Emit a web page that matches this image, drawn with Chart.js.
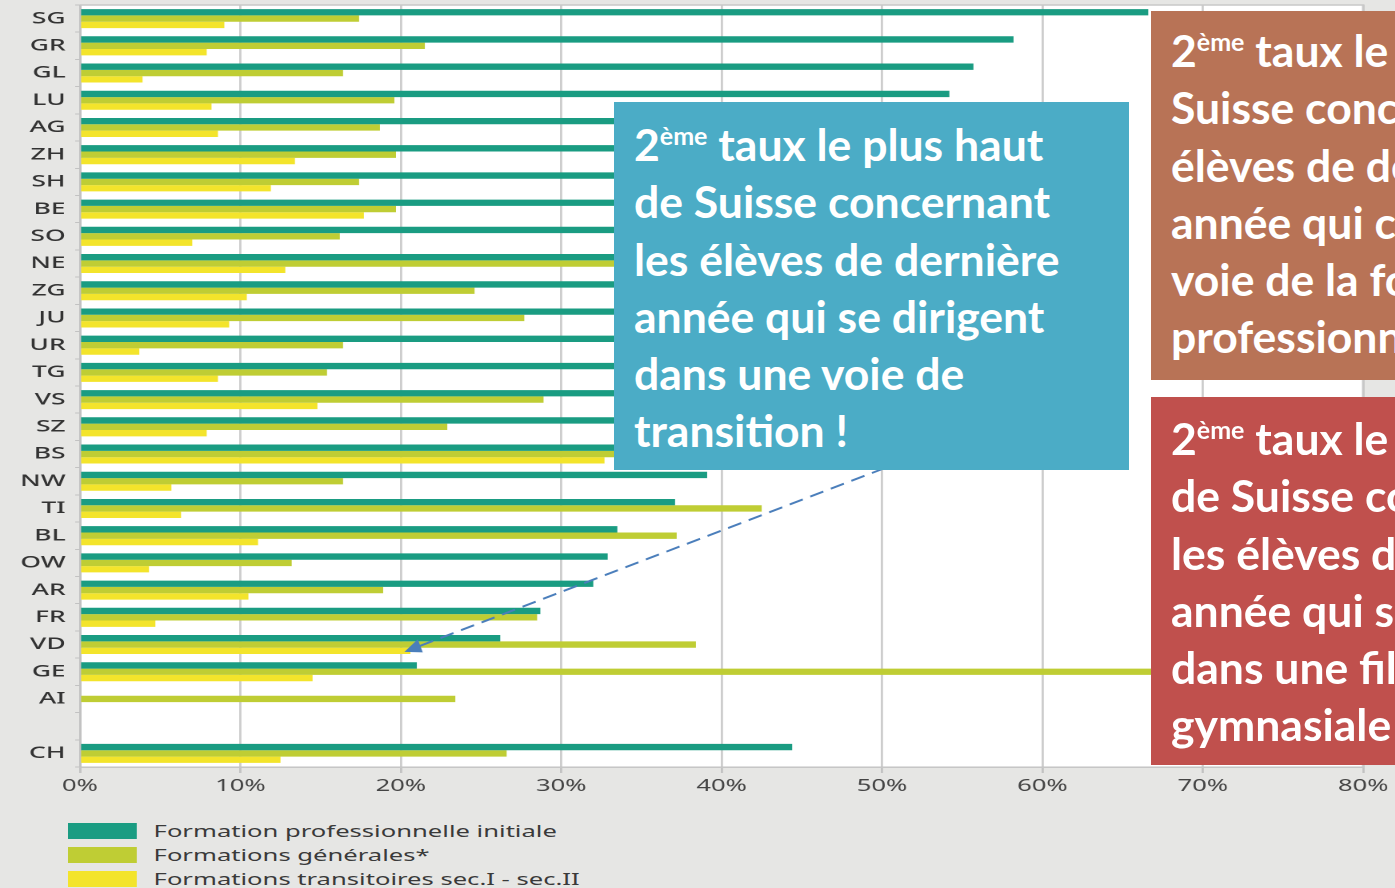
<!DOCTYPE html>
<html lang="fr">
<head>
<meta charset="utf-8">
<script src="https://cdn.jsdelivr.net/npm/chart.js@4"></script>
<style>
  html, body { margin: 0; padding: 0; }
  body { width: 1395px; height: 888px; background: #e6e6e4; position: relative; overflow: hidden; font-family: "Noto Sans", sans-serif; }
  /* le graphique d'origine est étiré horizontalement */
  #wrap { position: absolute; left: 0; top: 0; width: 872px; height: 800px; transform: scaleX(1.6); transform-origin: 0 0; }
  .note { position: absolute; color: #fff; font-family: Lato, sans-serif; font-weight: 700; font-size: 44.5px; line-height: 57.3px; white-space: nowrap; overflow: hidden; box-sizing: border-box; padding-left: 20px; }
  .note sup { font-size: 25px; line-height: 0; vertical-align: 0; position: relative; top: -16px; }
  #bleu { left: 614px; top: 102px; width: 515px; height: 368px; background: #4bacc6; padding-top: 13px; }
  #brun { left: 1151px; top: 11px; width: 260px; height: 369px; background: #b87356; padding-top: 10px; }
  #rouge { left: 1151px; top: 397px; width: 260px; height: 368px; background: #c0504d; padding-top: 12px; }
  #legende { position: absolute; left: 68px; top: 819px; font-size: 16px; color: #3a3a3a; transform: scaleX(1.6); transform-origin: 0 0; }
  #legende div { height: 24px; display: flex; align-items: center; white-space: nowrap; }
  #legende span { display: inline-block; width: 42.5px; height: 16px; margin-right: 11px; }
</style>
</head>
<body>
<div id="wrap"><canvas id="graphique"></canvas></div>

<div class="note" id="bleu">2<sup>ème</sup> taux le plus haut<br>de Suisse concernant<br>les élèves de dernière<br>année qui se dirigent<br>dans une voie de<br>transition !</div>
<div class="note" id="brun">2<sup>ème</sup> taux le plus haut de<br>Suisse concernant les<br>élèves de dernière<br>année qui choisissent la<br>voie de la formation<br>professionnelle</div>
<div class="note" id="rouge">2<sup>ème</sup> taux le plus haut<br>de Suisse concernant<br>les élèves de dernière<br>année qui se dirigent<br>dans une filière<br>gymnasiale</div>

<div id="legende"></div>

<script>
// cantons (tri par formation professionnelle), ligne vide avant CH
const cantons = ["SG","GR","GL","LU","AG","ZH","SH","BE","SO","NE","ZG","JU","UR","TG","VS","SZ","BS","NW","TI","BL","OW","AR","FR","VD","GE","AI","","CH"];

const formationPro = [66.6,58.2,55.7,54.2,53,51.5,50.5,49.5,48.5,47,46,45,44.5,44,43,41.5,40,39.1,37.1,33.5,32.9,32.0,28.7,26.2,21.0,null,null,44.4];
const formationsGenerales = [17.4,21.5,16.4,19.6,18.7,19.7,17.4,19.7,16.2,36,24.6,27.7,16.4,15.4,28.9,22.9,38,16.4,42.5,37.2,13.2,18.9,28.5,38.4,69,23.4,null,26.6];
const formationsTransitoires = [9.0,7.9,3.9,8.2,8.6,13.4,11.9,17.7,7.0,12.8,10.4,9.3,3.7,8.6,14.8,7.9,32.7,5.7,6.3,11.1,4.3,10.5,4.7,20.6,14.5,null,null,12.5];

const nomsSeries = ["Formation professionnelle initiale", "Formations générales*", "Formations transitoires sec.I - sec.II"];
const couleurs = ["#1a9c82", "#bfcd34", "#f3e42b"];

const ticksX = [0,10,20,30,40,50,60,70,80];

const etirement = 1.6;

// legende html
const legende = document.getElementById("legende");
nomsSeries.forEach((nom, i) => {
    const ligne = document.createElement("div");
    ligne.innerHTML = `<span style="background:${couleurs[i]}"></span>${nom}`;
    legende.appendChild(ligne);
});

// fond blanc + cadre de la zone de tracé
const fondZone = {
    id: "fondZone",
    beforeDraw(chart) {
        const { ctx, chartArea: a } = chart;
        ctx.save();
        ctx.fillStyle = "#ffffff";
        ctx.fillRect(a.left, a.top, a.right - a.left, a.bottom - a.top);
        ctx.restore();
    },
    afterDraw(chart) {
        const { ctx, chartArea: a } = chart;
        ctx.save();
        ctx.strokeStyle = "#c8c8c8";
        ctx.lineWidth = 1.5;
        ctx.beginPath();
        ctx.moveTo(a.left, a.top);
        ctx.lineTo(a.right, a.top);
        ctx.lineTo(a.right, a.bottom);
        ctx.stroke();
        ctx.restore();
    }
};

// fleche pointillée vers VD (formations transitoires), dessinée en pixels de page
const fleche = {
    id: "fleche",
    afterDatasetsDraw(chart) {
        const barre = chart.getDatasetMeta(2).data[cantons.indexOf("VD")];
        const tipX = barre.x * etirement - 6, tipY = barre.y + 1;
        const startX = 885, startY = 468;
        const ctx = chart.ctx;
        const ang = Math.atan2(tipY - startY, tipX - startX);
        const c = Math.cos(ang), s = Math.sin(ang);
        ctx.save();
        ctx.scale(1 / etirement, 1);
        ctx.strokeStyle = "#4a7ebb";
        ctx.fillStyle = "#4a7ebb";
        ctx.lineWidth = 2;
        ctx.setLineDash([14, 8]);
        ctx.beginPath();
        ctx.moveTo(startX, startY);
        ctx.lineTo(tipX - 14 * c, tipY - 14 * s);
        ctx.stroke();
        ctx.setLineDash([]);
        ctx.beginPath();
        ctx.moveTo(tipX, tipY);
        ctx.lineTo(tipX - 17 * c + 7 * s, tipY - 17 * s - 7 * c);
        ctx.lineTo(tipX - 17 * c - 7 * s, tipY - 17 * s + 7 * c);
        ctx.closePath();
        ctx.fill();
        ctx.restore();
    }
};

const donnees = [formationPro, formationsGenerales, formationsTransitoires];

new Chart(document.getElementById("graphique"), {
    type: "bar",
    data: {
        labels: cantons,
        datasets: donnees.map((d, i) => ({
            label: nomsSeries[i],
            data: d,
            backgroundColor: couleurs[i],
            borderWidth: 0,
            categoryPercentage: 0.7,
            barPercentage: 1.0
        }))
    },
    options: {
        indexAxis: "y",
        responsive: true,
        maintainAspectRatio: false,
        animation: false,
        devicePixelRatio: 2,
        layout: { padding: { top: 5, right: 20, left: 0, bottom: 0 } },
        plugins: {
            legend: { display: false },
            tooltip: { enabled: false }
        },
        scales: {
            x: {
                min: 0,
                max: 80,
                afterBuildTicks: axis => { axis.ticks = ticksX.map(v => ({ value: v })); },
                afterFit: axis => { axis.height = 33; axis.paddingLeft = 0; axis.paddingRight = 0; },
                ticks: {
                    callback: v => v + "%",
                    color: "#444",
                    font: { family: "Noto Sans", size: 16 },
                    padding: 4
                },
                grid: { color: "#cdcdcd", lineWidth: 1.4, tickLength: 6, tickColor: "#c2c2c2" },
                border: { color: "#c2c2c2", width: 1.4 }
            },
            y: {
                afterFit: axis => { axis.width = 50; axis.paddingTop = 0; axis.paddingBottom = 0; },
                ticks: {
                    color: "#333",
                    font: { family: "Noto Sans", size: 16.5, weight: "500" },
                    padding: 6
                },
                grid: { drawOnChartArea: false, offset: true, tickLength: 3, tickColor: "#c2c2c2" },
                border: { color: "#c2c2c2", width: 1.4 }
            }
        }
    },
    plugins: [fondZone, fleche]
});
</script>
</body>
</html>
